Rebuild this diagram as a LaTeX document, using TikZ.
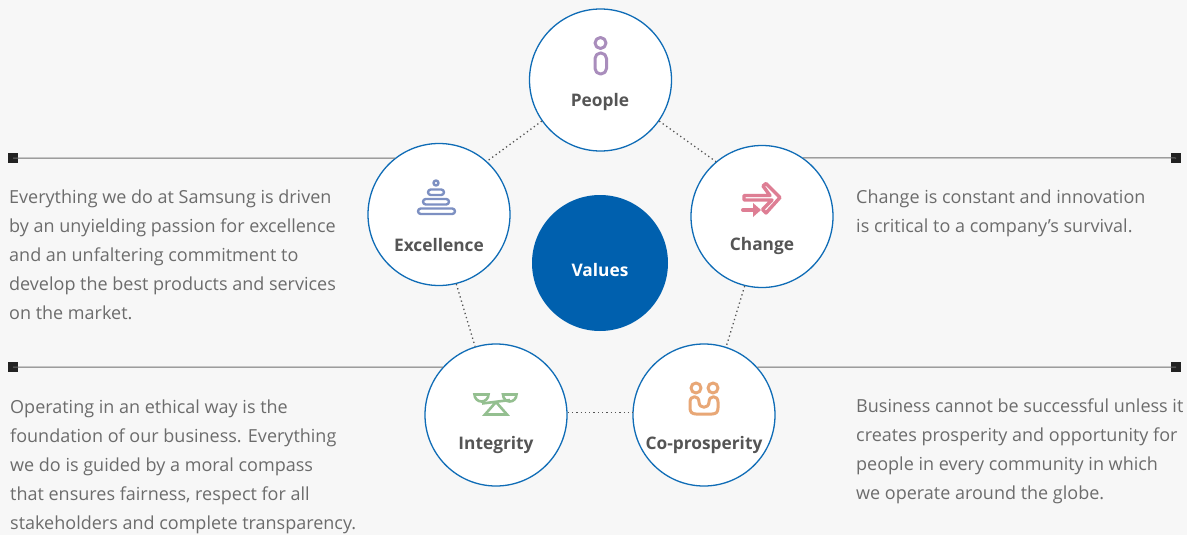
\documentclass[tikz,border=0pt]{standalone}
\usepackage{fontspec}
\setmainfont{Open Sans}
\usepackage{tikz}
\definecolor{pagebg}{HTML}{F7F7F7}
\definecolor{ringblue}{HTML}{0F6CB6}
\definecolor{valblue}{HTML}{0060AE}
\definecolor{titlegray}{HTML}{555555}
\definecolor{descgray}{HTML}{6C6C6C}
\definecolor{rulegray}{HTML}{6E6E6E}
\definecolor{sqblack}{HTML}{222222}
\definecolor{iconpurple}{HTML}{A98DBC}
\definecolor{iconblue}{HTML}{7D90C2}
\definecolor{iconpink}{HTML}{DE7E94}
\definecolor{icongreen}{HTML}{94BF90}
\definecolor{iconorange}{HTML}{E8A776}
\begin{document}
\begin{tikzpicture}[x=1pt,y=-1pt,
      value/.style={circle, draw=ringblue, fill=white, line width=1.3pt, inner sep=0pt, minimum size=142pt},
      core/.style={circle, fill=valblue, inner sep=0pt, minimum size=136pt},
      title/.style={text=titlegray, inner sep=0pt, font=\fontsize{17.3}{22}\selectfont\bfseries},
      desc/.style={anchor=north west, align=left, inner sep=0pt, text=descgray, font=\fontsize{18}{28.8}\selectfont},
      marker/.style={rectangle, fill=sqblack, inner sep=0pt, minimum size=10pt},
      rulerline/.style={draw=rulegray, line width=1pt},
      link/.style={draw=titlegray, line width=1.3pt, dash pattern=on 1.3pt off 3pt},
      icon/.style={line width=3pt, line cap=round, line join=round},
      scales/.style={line width=2.6pt, line cap=butt, line join=miter, icongreen}]

      \useasboundingbox (0,0) rectangle (1187,535);
      \fill[pagebg] (0,0) rectangle (1187,535);

      % Squares at both ends
      \node[marker] (lefttop) at (13,158) {};
      \node[marker] (righttop) at (1176,158) {};
      \node[marker] (leftlow) at (13,367) {};
      \node[marker] (rightlow) at (1176,367) {};

      % Circles
      \node[value] (people) at (600.5,80) {};
      \node[value] (excellence) at (439,214.5) {};
      \node[value] (change) at (762,216.5) {};
      \node[value] (integrity) at (496,415) {};
      \node[value] (coprosperity) at (704,415) {};
      \node[core] (values) at (600,263) {};

      % Rules
      \draw[rulerline] (lefttop.center) -- (excellence.128);
      \draw[rulerline] (righttop.center) -- (change.55);
      \draw[rulerline] (leftlow.center) -- (integrity.138);
      \draw[rulerline] (rightlow.center) -- (coprosperity.42);

      % Dotted links
      \draw[link] (people.215) -- (excellence.48);
      \draw[link] (people.325) -- (change.130);
      \draw[link] (excellence.284) -- (integrity.107);
      \draw[link] (change.256) -- (coprosperity.72);
      \draw[link] (integrity.east) ++(0,-2.5) coordinate (intend) -- (intend -| coprosperity.west);

      % Titles
      \node[title] (peopletxt) at (600,102) {People};
      \node[title] (excellencetxt) at (439,245) {Excellence};
      \node[title] (changetxt) at (762,246) {Change};
      \node[title] (integritytxt) at (496,445) {Integrity};
      \node[title] (coprosperitytxt) at (704,445) {Co-prosperity};
      \node[title, text=white] (valuestxt) at (600,270) {Values};

      % Icons
      \draw[icon, iconpurple] (600.5,43) circle (5.5);
      \draw[icon, iconpurple, rounded corners=5.5pt] (595,53) rectangle (606.5,74);

      \draw[icon, iconblue, line width=2.4pt] (436,183) circle (2.5);
      \draw[icon, iconblue, line width=2.4pt, rounded corners=2.8pt] (428,189.5) rectangle (444,195);
      \draw[icon, iconblue, line width=2.4pt, rounded corners=2.8pt] (423,199) rectangle (449,204.5);
      \draw[icon, iconblue, line width=2.4pt, rounded corners=2.8pt] (418,208.5) rectangle (455,214);

      \draw[icon, iconpink, fill=white, line width=3.4pt] (744,195.5) -- (770,195.5) -- (763,186) -- (766,183.5) -- (780,197.5) -- (766,213) -- (762.5,209.5) -- (772,200) -- (744,200) -- cycle;
      \draw[icon, iconpink, line width=4pt] (743,210) -- (755,210);
      \fill[iconpink] (753,203) -- (761,210) -- (753,217) -- cycle;

      \draw[scales] (474.5,394.5) -- (488.5,394.5) arc (0:180:7 and 7) -- cycle;
      \draw[scales] (503,394.5) -- (516.5,394.5) arc (0:180:6.75 and 7) -- cycle;
      \draw[scales] (482,403.5) -- (510,400) (496,402) -- (485,414.5) -- (507,414.5) -- (496,402);

      \draw[icon, iconorange] (696,388) circle (5);
      \draw[icon, iconorange] (713,388) circle (5);
      \draw[icon, iconorange] (690,408) -- (690,402) .. controls (690,395) and (699,395) .. (699,402) .. controls (699,409) and (709,409) .. (709,402) .. controls (709,395) and (718,395) .. (718,402) -- (718,408) .. controls (718,412) and (716,414) .. (712,414) -- (696,414) .. controls (692,414) and (690,412) .. (690,408) -- cycle;

      % Descriptions
      \node[desc] (excellencedesc) at (9,190) {Everything we do at Samsung is driven\\by an unyielding passion for excellence\\and an unfaltering commitment to\\develop the best products and services\\on the market.};
      \node[desc] (changedesc) at (856,190) {Change is constant and innovation\\is critical to a company's survival.};
      \node[desc] (integritydesc) at (10,400) {Operating in an ethical way is the\\foundation of our business. Everything\\we do is guided by a moral compass\\that ensures fairness, respect for all\\stakeholders and complete transparency.};
      \node[desc] (coprosperitydesc) at (856,399) {Business cannot be successful unless it\\creates prosperity and opportunity for\\people in every community in which\\we operate around the globe.};
\end{tikzpicture}
\end{document}
